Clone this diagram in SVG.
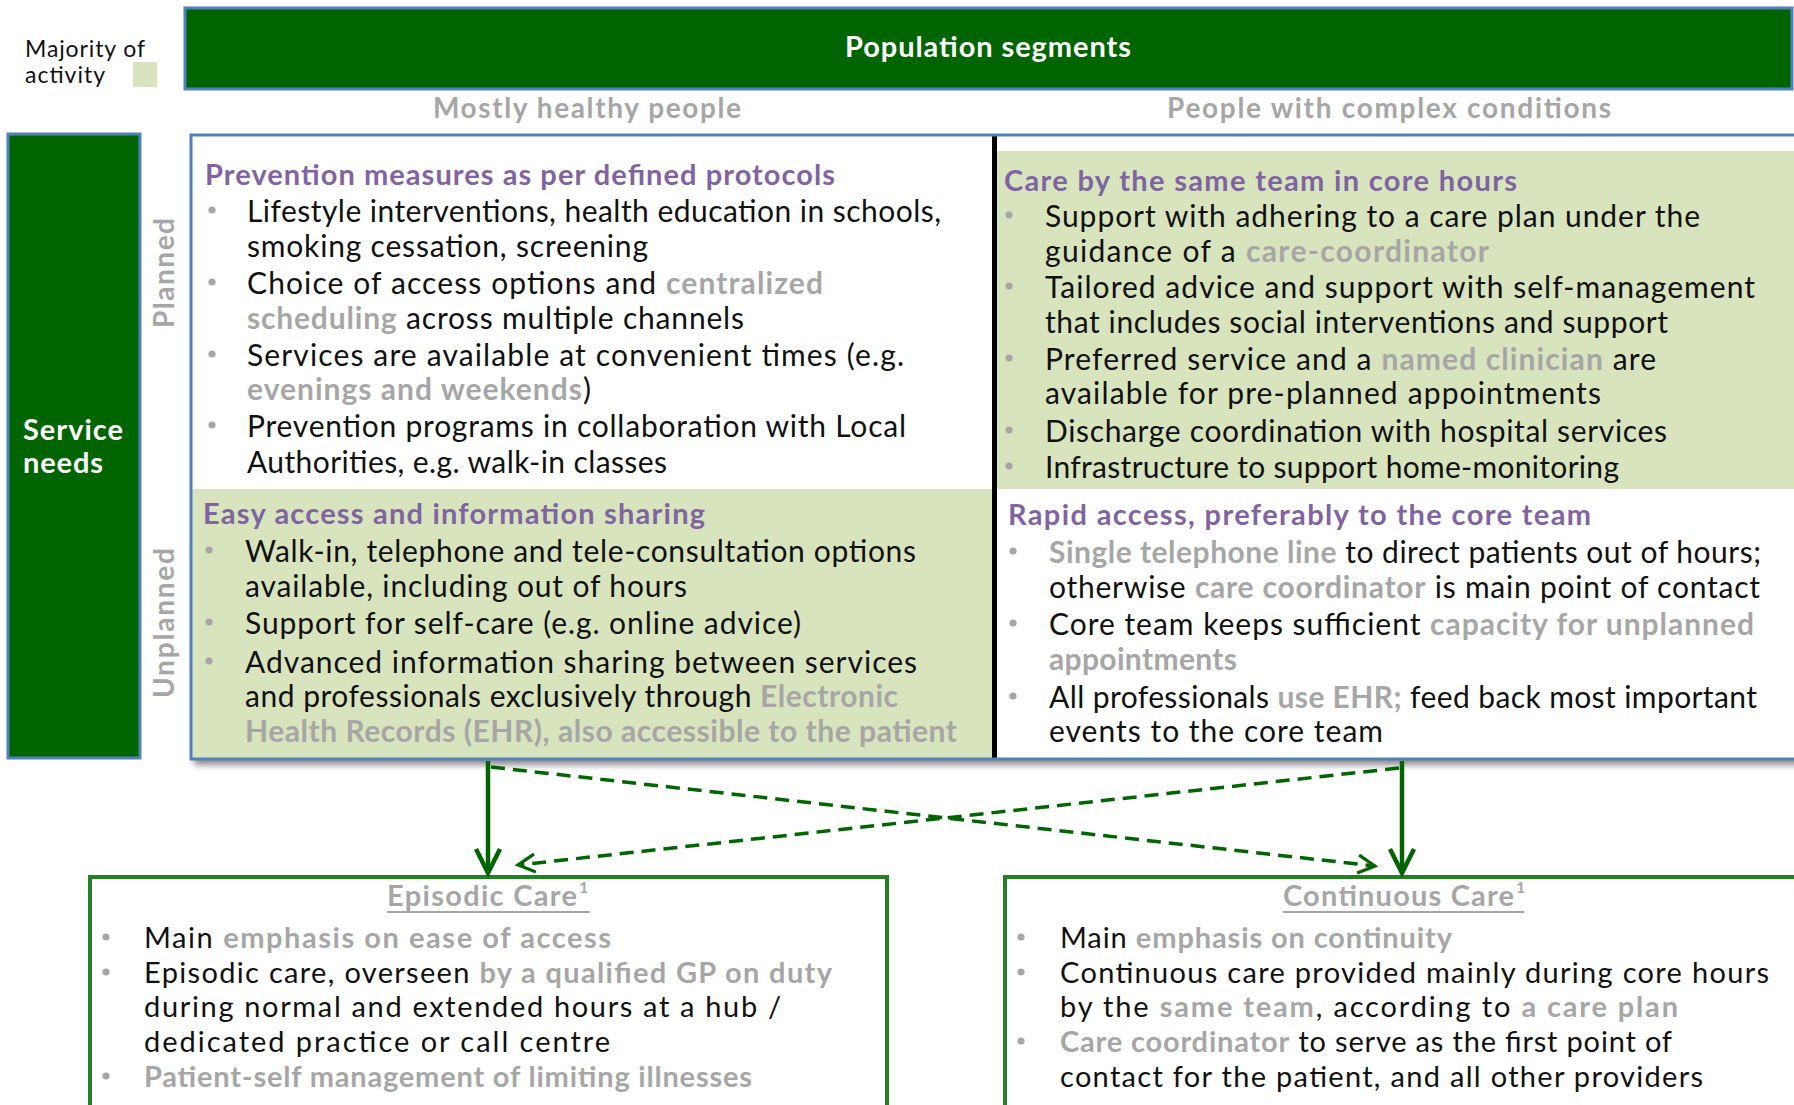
<svg xmlns="http://www.w3.org/2000/svg" width="1794" height="1105" viewBox="0 0 1794 1105">
<style>
text{font-family:Lato,"Liberation Sans",sans-serif}
.bd{font-size:30px;fill:#111}
.bt{font-size:29px;fill:#111}
.hd{font-size:29px;font-weight:700;fill:#8064a2}
.wh{font-weight:700;fill:#fff}
.lbl{font-size:28px;font-weight:700;fill:#a6a6a6}
.dot{fill:#a6a6a6}
.box{fill:#fff;stroke:#267f26;stroke-width:4}
text.gl,tspan.gl{fill:#a6a6a6}
text.g,tspan.g{font-weight:700;fill:#a6a6a6}
</style>
<defs>
<filter id="sh" x="-5%" y="-5%" width="110%" height="120%">
<feDropShadow dx="3" dy="6" stdDeviation="3" flood-color="#000" flood-opacity="0.45"/>
</filter>
<marker id="solidHead" markerUnits="userSpaceOnUse" markerWidth="40" markerHeight="40" orient="auto" refX="0" refY="0" overflow="visible">
<path d="M-24,-12 L0,0 L-24,12" fill="none" stroke="#006400" stroke-width="4.5" stroke-linejoin="miter"/>
</marker>
<marker id="dashHead" markerUnits="userSpaceOnUse" markerWidth="30" markerHeight="30" orient="auto" refX="0" refY="0" overflow="visible">
<path d="M-17,-9 L0,0 L-17,9" fill="none" stroke="#006400" stroke-width="3.2"/>
</marker>
</defs>
<rect width="1794" height="1105" fill="#fff"/>

<g id="legend">
<text x="25" y="57" font-size="23" fill="#111" textLength="120">Majority of</text>
<text x="25" y="83" font-size="23" fill="#111" textLength="80">activity</text>
<rect x="133" y="62" width="24" height="25" fill="#d7e4bd"/>
</g>

<g id="population-segments">
<rect x="185" y="8" width="1607" height="81" fill="#006400" stroke="#4f81bd" stroke-width="3"/>
<text class="wh" x="988" y="57" font-size="29" text-anchor="middle" textLength="286">Population segments</text>
</g>

<g id="column-labels">
<text class="lbl" x="433" y="118" textLength="308">Mostly healthy people</text>
<text class="lbl" x="1167" y="118" textLength="444">People with complex conditions</text>
</g>

<g id="service-needs">
<rect x="8" y="134" width="132" height="624" fill="#006400" stroke="#4f81bd" stroke-width="3"/>
<text class="wh" x="23" y="440" font-size="29" textLength="100">Service</text>
<text class="wh" x="23" y="473" font-size="29" textLength="80">needs</text>
</g>

<g id="row-labels">
<text class="lbl" transform="translate(174,273) rotate(-90)" text-anchor="middle" textLength="110">Planned</text>
<text class="lbl" transform="translate(174,623) rotate(-90)" text-anchor="middle" textLength="150">Unplanned</text>
</g>

<g id="grid">
<rect x="191" y="135" width="1610" height="624" fill="#fff" filter="url(#sh)"/>
<rect x="997" y="151" width="800" height="338" fill="#d7e4bd"/>
<rect x="191" y="489" width="802" height="270" fill="#d7e4bd"/>
<line x1="994.5" y1="135" x2="994.5" y2="759" stroke="#000" stroke-width="5"/>
<path d="M1800,135 H191 V759 H1800" fill="none" stroke="#4f81bd" stroke-width="3"/>
</g>

<g id="cell-planned-healthy">
<text class="hd" x="205" y="185" textLength="630">Prevention measures as per defined protocols</text>
<circle class="dot" cx="212" cy="210" r="3.6"/>
<circle class="dot" cx="212" cy="282" r="3.6"/>
<circle class="dot" cx="212" cy="354" r="3.6"/>
<circle class="dot" cx="212" cy="425" r="3.6"/>
<text class="bd" x="247" y="222" textLength="694">Lifestyle interventions, health education in schools,</text>
<text class="bd" x="247" y="257" textLength="401">smoking cessation, screening</text>
<text class="bd" x="247" y="294" textLength="576">Choice of access options and <tspan class="g">centralized</tspan></text>
<text class="bd" x="247" y="329" textLength="497"><tspan class="g">scheduling</tspan> across multiple channels</text>
<text class="bd" x="247" y="366" textLength="657">Services are available at convenient times (e.g.</text>
<text class="bd" x="247" y="400" textLength="344"><tspan class="g">evenings and weekends</tspan>)</text>
<text class="bd" x="247" y="437" textLength="659">Prevention programs in collaboration with Local</text>
<text class="bd" x="247" y="473" textLength="420">Authorities, e.g. walk-in classes</text>
</g>

<g id="cell-unplanned-healthy">
<text class="hd" x="203" y="524" textLength="502">Easy access and information sharing</text>
<circle class="dot" cx="209" cy="550" r="3.6"/>
<circle class="dot" cx="209" cy="622" r="3.6"/>
<circle class="dot" cx="209" cy="661" r="3.6"/>
<text class="bd" x="245" y="562" textLength="671">Walk-in, telephone and tele-consultation options</text>
<text class="bd" x="245" y="597" textLength="442">available, including out of hours</text>
<text class="bd" x="245" y="634" textLength="556">Support for self-care (e.g. online advice)</text>
<text class="bd" x="245" y="673" textLength="672">Advanced information sharing between services</text>
<text class="bd" x="245" y="707" textLength="653">and professionals exclusively through <tspan class="g">Electronic</tspan></text>
<text class="bd g" x="245" y="742" textLength="712">Health Records (EHR), also accessible to the patient</text>
</g>

<g id="cell-planned-complex">
<text class="hd" x="1004" y="191" textLength="513">Care by the same team in core hours</text>
<circle class="dot" cx="1009" cy="215" r="3.6"/>
<circle class="dot" cx="1009" cy="286" r="3.6"/>
<circle class="dot" cx="1009" cy="358" r="3.6"/>
<circle class="dot" cx="1009" cy="430" r="3.6"/>
<circle class="dot" cx="1009" cy="466" r="3.6"/>
<text class="bd" x="1045" y="227" textLength="655">Support with adhering to a care plan under the</text>
<text class="bd" x="1045" y="262" textLength="444">guidance of a <tspan class="g">care-coordinator</tspan></text>
<text class="bd" x="1045" y="298" textLength="710">Tailored advice and support with self-management</text>
<text class="bd" x="1045" y="333" textLength="623">that includes social interventions and support</text>
<text class="bd" x="1045" y="370" textLength="611">Preferred service and a <tspan class="g">named clinician</tspan> are</text>
<text class="bd" x="1045" y="404" textLength="556">available for pre-planned appointments</text>
<text class="bd" x="1045" y="442" textLength="622">Discharge coordination with hospital services</text>
<text class="bd" x="1045" y="478" textLength="574">Infrastructure to support home-monitoring</text>
</g>

<g id="cell-unplanned-complex">
<text class="hd" x="1008" y="525" textLength="583">Rapid access, preferably to the core team</text>
<circle class="dot" cx="1013" cy="551" r="3.6"/>
<circle class="dot" cx="1013" cy="623" r="3.6"/>
<circle class="dot" cx="1013" cy="696" r="3.6"/>
<text class="bd" x="1049" y="563" textLength="712"><tspan class="g">Single telephone line</tspan> to direct patients out of hours;</text>
<text class="bd" x="1049" y="598" textLength="711">otherwise <tspan class="g">care coordinator</tspan> is main point of contact</text>
<text class="bd" x="1049" y="635" textLength="705">Core team keeps sufficient <tspan class="g">capacity for unplanned</tspan></text>
<text class="bd g" x="1049" y="670" textLength="188">appointments</text>
<text class="bd" x="1049" y="708" textLength="708">All professionals <tspan class="g">use EHR;</tspan> feed back most important</text>
<text class="bd" x="1049" y="742" textLength="334">events to the core team</text>
</g>

<g id="episodic-care">
<rect class="box" x="90" y="877" width="797" height="260"/>
<text class="bt g" x="387" y="906" textLength="190">Episodic Care</text>
<text class="gl" x="579" y="893" font-size="16" font-weight="700">1</text>
<line x1="387" y1="912" x2="590" y2="912" stroke="#a6a6a6" stroke-width="2"/>
<circle class="dot" cx="106" cy="937" r="3.6"/>
<circle class="dot" cx="106" cy="972" r="3.6"/>
<circle class="dot" cx="106" cy="1076" r="3.6"/>
<text class="bt" x="144" y="948" textLength="467">Main <tspan class="g">emphasis on ease of access</tspan></text>
<text class="bt" x="144" y="983" textLength="688">Episodic care, overseen <tspan class="g">by a qualified GP on duty</tspan></text>
<text class="bt" x="144" y="1017" textLength="637">during normal and extended hours  at a hub /</text>
<text class="bt" x="144" y="1052" textLength="466">dedicated practice or call centre</text>
<text class="bt g" x="144" y="1087" textLength="608">Patient-self management of limiting illnesses</text>
</g>

<g id="continuous-care">
<rect class="box" x="1005" y="877" width="800" height="260"/>
<text class="bt g" x="1283" y="906" textLength="231">Continuous Care</text>
<text class="gl" x="1516" y="893" font-size="16" font-weight="700">1</text>
<line x1="1283" y1="912" x2="1524" y2="912" stroke="#a6a6a6" stroke-width="2"/>
<circle class="dot" cx="1021" cy="937" r="3.6"/>
<circle class="dot" cx="1021" cy="972" r="3.6"/>
<circle class="dot" cx="1021" cy="1041" r="3.6"/>
<text class="bt" x="1060" y="948" textLength="392">Main <tspan class="g">emphasis on continuity</tspan></text>
<text class="bt" x="1060" y="983" textLength="709">Continuous care provided mainly during core hours</text>
<text class="bt" x="1060" y="1017" textLength="618">by the <tspan class="g">same team</tspan>, according to <tspan class="g">a care plan</tspan></text>
<text class="bt" x="1060" y="1052" textLength="612"><tspan class="g">Care coordinator</tspan> to serve as the first point of</text>
<text class="bt" x="1060" y="1087" textLength="643">contact for the patient, and all other providers</text>
</g>

<g id="connectors" fill="none" stroke="#006400">
<line x1="488" y1="761" x2="488" y2="873" stroke-width="4.5" marker-end="url(#solidHead)"/>
<line x1="1402" y1="761" x2="1402" y2="873" stroke-width="4.5" marker-end="url(#solidHead)"/>
<line x1="491" y1="767" x2="1375" y2="866" stroke-width="3.5" stroke-dasharray="14 8" marker-end="url(#dashHead)"/>
<line x1="1399" y1="768" x2="518" y2="865" stroke-width="3.5" stroke-dasharray="14 8" marker-end="url(#dashHead)"/>
</g>
</svg>
